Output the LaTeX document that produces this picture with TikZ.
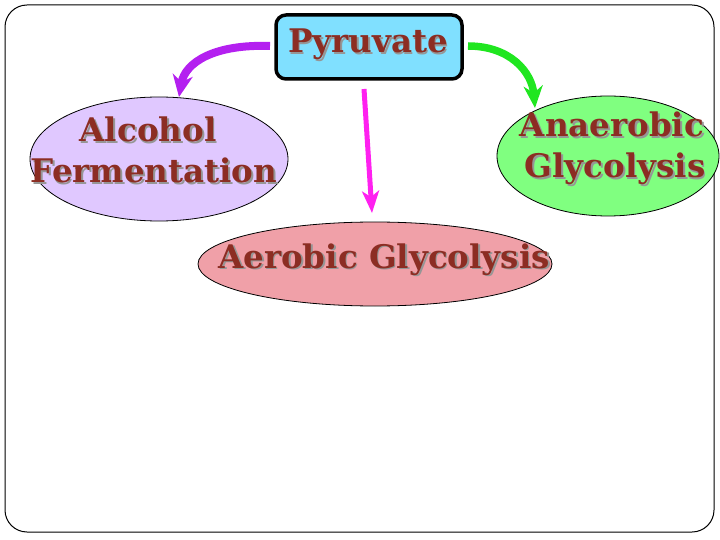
\documentclass[tikz,border=0pt]{standalone}
\usepackage{fontspec}
\setmainfont{DejaVu Serif}
\usetikzlibrary{shapes.geometric,arrows.meta}
\definecolor{txtred}{RGB}{140,45,35}
\definecolor{shadowgray}{RGB}{150,150,150}
\definecolor{pyrfill}{RGB}{128,224,255}
\definecolor{alcfill}{RGB}{224,200,255}
\definecolor{anafill}{RGB}{128,255,128}
\definecolor{aerfill}{RGB}{240,160,168}
\definecolor{purplearr}{RGB}{180,32,240}
\definecolor{greenarr}{RGB}{32,230,32}
\definecolor{magentaarr}{RGB}{255,32,240}
\newcommand\shtext[1]{\makebox[0pt][l]{\hspace{1.8pt}\raisebox{-1.8pt}{\textcolor{shadowgray}{#1}}}#1}
\tikzset{
  lbl/.style={text=txtred, font=\fontsize{32.5}{41}\selectfont\bfseries, inner sep=0pt, anchor=base},
  blob/.style={ellipse, draw=black, line width=0.8pt, inner sep=0pt},
  arr/.style={line width=#1},
}
\begin{document}
\begin{tikzpicture}[x=1pt,y=-1pt]
\useasboundingbox (0,0) rectangle (720,540);
\draw[line width=1pt, rounded corners=22pt] (5,5) rectangle (714,532);
\node[blob, fill=alcfill, minimum width=258pt, minimum height=124pt] (alc) at (159,159) {};
\node[blob, fill=anafill, minimum width=222pt, minimum height=120pt] (ana) at (608,156) {};
\node[blob, fill=aerfill, minimum width=354pt, minimum height=84pt] (aer) at (375,264) {};
\node[draw=black, line width=3.5pt, fill=pyrfill, rounded corners=10pt, minimum width=186pt, minimum height=64pt, inner sep=0pt] (pyr) at (369,47) {};
\node[lbl] (pyrt) at (368,53) {\shtext{Pyruvate}};
\node[lbl] (alct1) at (148,142) {\shtext{Alcohol}};
\node[lbl] (alct2) at (154,183) {\shtext{Fermentation}};
\node[lbl] (anat1) at (612,137) {\shtext{Anaerobic}};
\node[lbl] (anat2) at (615,178) {\shtext{Glycolysis}};
\node[lbl] (aert) at (384,268) {\shtext{Aerobic Glycolysis}};
\coordinate (p1) at (270,46);
\coordinate (p2) at (179,97);
\coordinate (g1) at (468,46);
\coordinate (g2) at (535,108);
\coordinate (m1) at (364,89);
\coordinate (m2) at (372,213);
\draw[arr=8pt, draw=purplearr, -{Stealth[length=22pt,width=20pt,inset=7pt]}] (p1) .. controls (215,44) and (185,62) .. (p2);
\draw[arr=7.5pt, draw=greenarr, -{Stealth[length=22pt,width=19pt,inset=7pt]}] (g1) .. controls (510,46) and (532,72) .. (g2);
\draw[arr=5pt, draw=magentaarr, -{Stealth[length=22pt,width=17pt,inset=6pt]}] (m1) -- (m2);
\end{tikzpicture}
\end{document}
